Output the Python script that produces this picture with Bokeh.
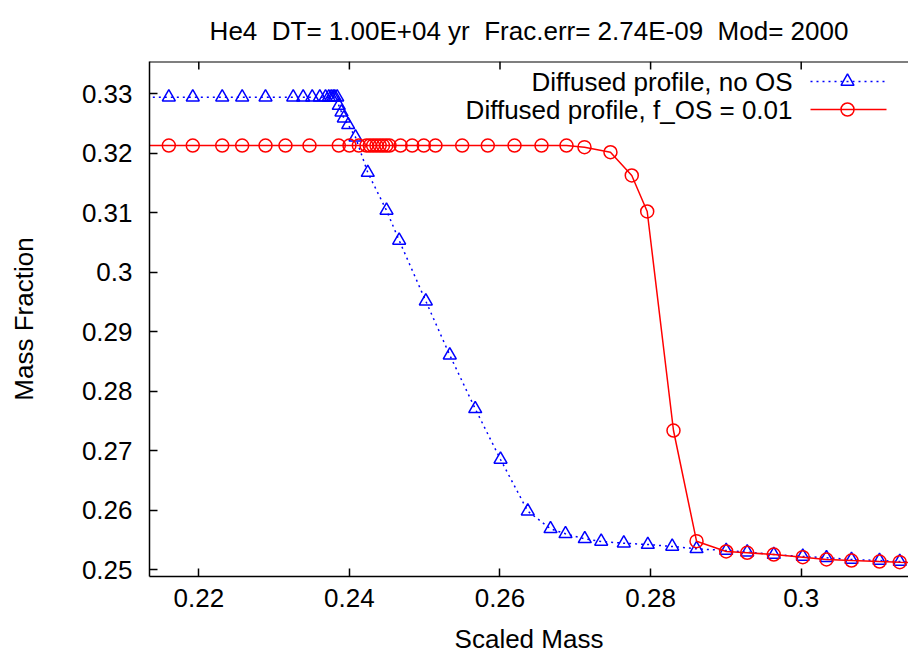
from bokeh.plotting import figure
from bokeh.models import Range1d, FixedTicker, CustomJSTickFormatter, Label, Span
from bokeh.embed import file_html
from bokeh.resources import INLINE

# ---------------- data ----------------
title_text = "He4  DT= 1.00E+04 yr  Frac.err= 2.74E-09  Mod= 2000"
x_label = "Scaled Mass"
y_label = "Mass Fraction"
series_names = ["Diffused profile, no OS", "Diffused profile, f_OS = 0.01"]
x_ticks = [0.22, 0.24, 0.26, 0.28, 0.30]
y_ticks = [0.25, 0.26, 0.27, 0.28, 0.29, 0.30, 0.31, 0.32, 0.33]

no_os_x = [0.2123, 0.21602, 0.21920, 0.22311, 0.22576, 0.22886, 0.23254, 0.23386,
           0.23506, 0.23607, 0.23683, 0.23726, 0.23758, 0.23785, 0.23806, 0.23838,
           0.23859, 0.23895, 0.23926, 0.23984, 0.24081, 0.24244, 0.24493, 0.24661,
           0.25015, 0.25333, 0.25671, 0.26007, 0.26369, 0.26671, 0.26870, 0.27126,
           0.27344, 0.27644, 0.27963, 0.28287, 0.28610, 0.29004, 0.29283, 0.29636,
           0.30021, 0.30336, 0.30668, 0.31040, 0.31309, 0.3165]
no_os_y = [0.32943, 0.32943, 0.32943, 0.32943, 0.32943, 0.32943, 0.32943, 0.32943,
           0.32943, 0.32943, 0.32943, 0.32943, 0.32943, 0.32943, 0.32943, 0.32943,
           0.32803, 0.32691, 0.32590, 0.32479, 0.32271, 0.31676, 0.31039, 0.30535,
           0.29514, 0.28607, 0.27706, 0.26854, 0.25985, 0.25689, 0.25605, 0.25521,
           0.25476, 0.25447, 0.25425, 0.25392, 0.25353, 0.25324, 0.25296, 0.25257,
           0.25224, 0.25202, 0.25173, 0.25156, 0.25139, 0.2512]

os_x = [0.2123, 0.21602, 0.21920, 0.22311, 0.22576, 0.22886, 0.23151, 0.23470,
        0.23859, 0.24001, 0.24125, 0.24227, 0.24271, 0.24315, 0.24359, 0.24403,
        0.24446, 0.24490, 0.24533, 0.24679, 0.24834, 0.24988, 0.25143, 0.25498,
        0.25838, 0.26193, 0.26551, 0.26883, 0.27122, 0.27467, 0.27750, 0.27955,
        0.28304, 0.28610, 0.29004, 0.29283, 0.29636, 0.30021, 0.30336, 0.30668,
        0.31040, 0.31309, 0.3165]
os_y = [0.32131, 0.32131, 0.32131, 0.32131, 0.32131, 0.32131, 0.32131, 0.32131,
        0.32131, 0.32131, 0.32131, 0.32131, 0.32131, 0.32131, 0.32131, 0.32131,
        0.32131, 0.32131, 0.32131, 0.32131, 0.32131, 0.32131, 0.32131, 0.32131,
        0.32131, 0.32131, 0.32131, 0.32131, 0.32103, 0.32018, 0.31627, 0.31022,
        0.27341, 0.25481, 0.25308, 0.25286, 0.25257, 0.25212, 0.25173, 0.25156,
        0.25139, 0.25128, 0.25115]

# ---------------- layout ----------------
W_PX, H_PX = 908, 657
FL, FR, FT, FB = 149, 908, 61, 576
X0, X1 = 0.213453, 0.314250
Y0, Y1 = 0.248874, 0.335429
FONT = "Liberation Sans"
FS = "26px"

def sx(px):
    return X0 + (px - FL) * (X1 - X0) / (FR - FL)

def sy(py):
    return Y1 - (py - FT) * (Y1 - Y0) / (FB - FT)

p = figure(width=W_PX, height=H_PX, output_backend="svg", toolbar_location=None,
           x_range=Range1d(X0, X1), y_range=Range1d(Y0, Y1),
           min_border_left=FL, min_border_right=W_PX - FR,
           min_border_top=FT, min_border_bottom=H_PX - FB)
p.outline_line_color = None
p.xgrid.grid_line_color = None
p.ygrid.grid_line_color = None
p.background_fill_color = "white"
p.border_fill_color = "white"

fmt = CustomJSTickFormatter(code="return tick.toFixed(2).replace(/0$/, '');")

for ax in (p.xaxis[0], p.yaxis[0]):
    ax.major_tick_in = 8
    ax.major_tick_out = 0
    ax.minor_tick_in = 0
    ax.minor_tick_out = 0
    ax.axis_line_width = 1.5
    ax.major_tick_line_width = 1.5
    ax.axis_line_color = "black"
    ax.major_label_text_font = FONT
    ax.major_label_text_font_size = FS
    ax.major_label_text_color = "black"
    ax.axis_label_text_font = FONT
    ax.axis_label_text_font_size = FS
    ax.axis_label_text_font_style = "normal"
    ax.axis_label_text_color = "black"
    ax.formatter = fmt

p.xaxis[0].ticker = FixedTicker(ticks=x_ticks)
p.yaxis[0].ticker = FixedTicker(ticks=y_ticks)
p.xaxis[0].axis_label = x_label
p.yaxis[0].axis_label = y_label
p.xaxis[0].major_label_standoff = 12
p.xaxis[0].axis_label_standoff = 14
p.yaxis[0].major_label_standoff = 17
p.yaxis[0].axis_label_standoff = 40

# top border with inward ticks (gnuplot style box)
p.add_layout(Span(location=Y1, dimension="width", line_color="black", line_width=2))
p.segment(x0=x_ticks, y0=[Y1] * len(x_ticks), x1=x_ticks,
          y1=[sy(FT + 8)] * len(x_ticks), line_color="black", line_width=1.5)

p.title.text = title_text.replace("  ", "\u00a0 ")
p.title.align = "center"
p.title.vertical_align = "top"
p.title.text_font = FONT
p.title.text_font_size = FS
p.title.text_font_style = "normal"
p.title.text_color = "black"
p.title.standoff = 28

BLUE = "#0000ff"
RED = "#ff0000"

# series
p.line(no_os_x, no_os_y, line_color=BLUE, line_width=1.5, line_dash="2 4")
p.scatter(no_os_x, no_os_y, marker="triangle", size=13, line_color=BLUE,
          fill_color=None, line_width=1.5)
p.line(os_x, os_y, line_color=RED, line_width=1.5)
p.scatter(os_x, os_y, marker="circle", size=13, line_color=RED,
          fill_color=None, line_width=1.5)

# legend (gnuplot style: text on the left, sample on the right)
rows_py = [81, 109]
styles = [(BLUE, "2 4", "triangle"), (RED, "solid", "circle")]
for name, py, (col, dash, mk) in zip(series_names, rows_py, styles):
    p.add_layout(Label(x=sx(792), y=sy(py), text=name, text_align="right",
                       text_baseline="middle", text_font=FONT, text_font_size=FS,
                       text_color="black"))
    p.line([sx(810), sx(886)], [sy(py), sy(py)], line_color=col, line_width=1.5,
           line_dash=dash)
    p.scatter([sx(847)], [sy(py)], marker=mk, size=13, line_color=col,
              fill_color=None, line_width=1.5)

open("out.html", "w").write(file_html(p, INLINE))
